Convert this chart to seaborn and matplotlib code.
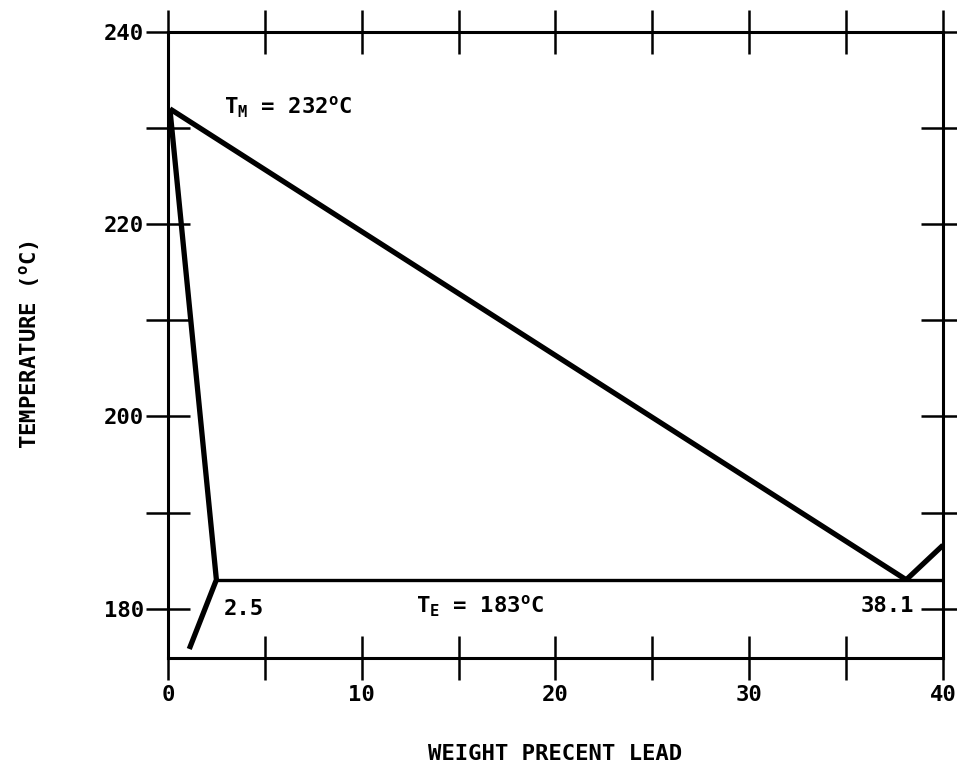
import matplotlib
matplotlib.use("Agg")
import matplotlib.pyplot as plt
import seaborn as sns
import pandas as pd

# Data (weight percent lead, temperature in degC)
liquidus_x = [0.1, 38.1]
liquidus_y = [232.0, 183.0]
solidus_x = [0.1, 2.5, 1.1]
solidus_y = [232.0, 183.0, 175.8]
eutectic_x = [2.5, 40.0]
eutectic_y = [183.0, 183.0]
pb_liquidus_x = [38.1, 40.0]
pb_liquidus_y = [183.0, 186.6]

x_ticks = [0, 5, 10, 15, 20, 25, 30, 35, 40]
x_labels = ["0", "", "10", "", "20", "", "30", "", "40"]
y_ticks = [180, 190, 200, 210, 220, 230, 240]
y_labels = ["180", "", "200", "", "220", "", "240"]

sns.set_style("white")
plt.rcParams['font.family'] = ['DejaVu Sans Mono']
plt.rcParams['font.weight'] = 'bold'
plt.rcParams['mathtext.default'] = 'regular'
plt.rcParams['text.color'] = 'black'
plt.rcParams['axes.labelcolor'] = 'black'
plt.rcParams['axes.labelweight'] = 'bold'
plt.rcParams['xtick.color'] = 'black'
plt.rcParams['ytick.color'] = 'black'

FS = 16

fig = plt.figure(figsize=(9.57, 7.63), dpi=100)
ax = fig.add_axes([0.1755, 0.1381, 0.8099, 0.8200])

def seg(xs, ys, name):
    return pd.DataFrame({"x": xs, "y": ys, "curve": name})

thick = dict(color="black", linewidth=3.8, estimator=None, sort=False,
             legend=False, solid_capstyle="butt", solid_joinstyle="miter")
sns.lineplot(data=seg(liquidus_x, liquidus_y, "liq"), x="x", y="y", ax=ax, **thick)
sns.lineplot(data=seg(solidus_x, solidus_y, "sol"), x="x", y="y", ax=ax, **thick)
sns.lineplot(data=seg(pb_liquidus_x, pb_liquidus_y, "pb"), x="x", y="y", ax=ax, **thick)
sns.lineplot(data=seg(eutectic_x, eutectic_y, "eut"), x="x", y="y", ax=ax,
             color="black", linewidth=2.4, estimator=None, sort=False, legend=False)

ax.set_xlim(0, 40)
ax.set_ylim(174.9, 240)
ax.set_xticks(x_ticks)
ax.set_xticklabels(x_labels)
ax.set_yticks(y_ticks)
ax.set_yticklabels(y_labels)

for s in ax.spines.values():
    s.set_linewidth(2.2)
    s.set_color("black")
    s.set_visible(True)

ax.tick_params(axis="both", which="major", direction="inout", length=32, width=1.8,
               color="black", labelcolor="black", labelsize=FS,
               top=True, right=True, bottom=True, left=True,
               labeltop=False, labelright=False, labelbottom=True, labelleft=True)
ax.tick_params(axis="x", pad=4)
ax.tick_params(axis="y", pad=1)

ax.set_xlabel("WEIGHT PRECENT LEAD", fontsize=FS, labelpad=28)
ax.set_ylabel("TEMPERATURE ($^{o}$C)", fontsize=FS, labelpad=45)

ax.text(2.9, 232.2, "T$_M$ = 232$^{o}$C", fontsize=FS, va="center", ha="left")
ax.text(12.8, 180.2, "T$_E$ = 183$^{o}$C", fontsize=FS, va="center", ha="left")
ax.text(2.9, 180.0, "2.5", fontsize=FS, va="center", ha="left")
ax.text(38.5, 180.3, "38.1", fontsize=FS, va="center", ha="right")

fig.savefig("out.png", dpi=100)
